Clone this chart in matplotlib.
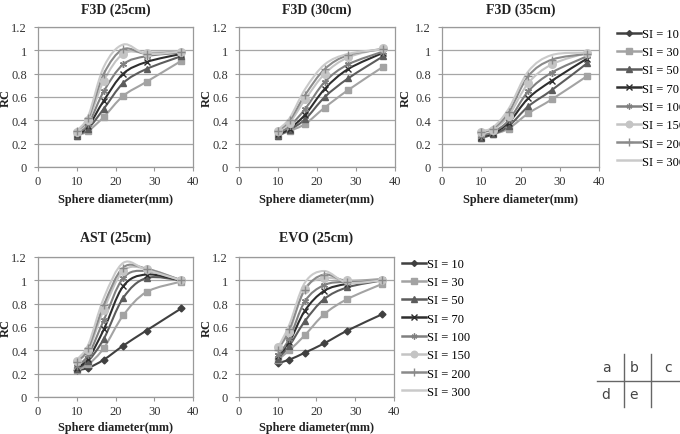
import numpy as np
import matplotlib
matplotlib.use("Agg")
import matplotlib.pyplot as plt
from matplotlib.path import Path
from matplotlib.patches import PathPatch
from matplotlib.lines import Line2D

plt.rcParams['font.family'] = ['Liberation Serif', 'DejaVu Serif']

# sphere diameters (mm)
diam = [10, 13, 17, 22, 28, 37]
si_labels = ['SI = 10', 'SI = 30', 'SI = 50', 'SI = 70', 'SI = 100', 'SI = 150', 'SI = 200', 'SI = 300']

# recovery coefficients, one list per SI value (None = not plotted)
f3d_25 = [None,
          [0.27, 0.31, 0.43, 0.61, 0.73, 0.91],
          [0.27, 0.33, 0.50, 0.72, 0.84, 0.95],
          [0.28, 0.35, 0.57, 0.80, 0.90, 0.97],
          [0.29, 0.37, 0.65, 0.88, 0.95, 0.98],
          [0.30, 0.40, 0.74, 0.97, 0.98, 0.99],
          [0.31, 0.42, 0.80, 1.01, 0.97, 0.99],
          [0.31, 0.44, 0.86, 1.05, 0.97, 0.99]]
f3d_30 = [None,
          [0.27, 0.31, 0.37, 0.51, 0.66, 0.86],
          [0.27, 0.32, 0.41, 0.60, 0.76, 0.95],
          [0.28, 0.33, 0.45, 0.67, 0.84, 0.98],
          [0.29, 0.35, 0.50, 0.73, 0.88, 0.99],
          [0.31, 0.38, 0.58, 0.80, 0.94, 1.02],
          [0.31, 0.40, 0.62, 0.84, 0.96, 1.01],
          [0.32, 0.42, 0.67, 0.88, 0.97, 1.01]]
f3d_35 = [None,
          [0.25, 0.28, 0.33, 0.46, 0.58, 0.78],
          [0.25, 0.28, 0.35, 0.52, 0.66, 0.89],
          [0.26, 0.29, 0.38, 0.59, 0.74, 0.93],
          [0.27, 0.30, 0.40, 0.65, 0.81, 0.95],
          [0.30, 0.32, 0.44, 0.72, 0.88, 0.98],
          [0.30, 0.33, 0.47, 0.78, 0.92, 0.97],
          [0.31, 0.34, 0.50, 0.82, 0.96, 0.98]]
ast_25 = [[0.23, 0.25, 0.32, 0.44, 0.57, 0.76],
          [0.23, 0.28, 0.42, 0.70, 0.90, 0.99],
          [0.24, 0.31, 0.50, 0.85, 1.02, 1.00],
          [0.25, 0.33, 0.58, 0.95, 1.05, 1.00],
          [0.27, 0.36, 0.66, 1.02, 1.08, 1.00],
          [0.31, 0.40, 0.75, 1.08, 1.10, 1.00],
          [0.30, 0.42, 0.79, 1.11, 1.10, 1.00],
          [0.32, 0.45, 0.85, 1.15, 1.09, 1.00]]
evo_25 = [[0.29, 0.32, 0.38, 0.46, 0.57, 0.71],
          [0.32, 0.40, 0.53, 0.71, 0.84, 0.97],
          [0.33, 0.44, 0.65, 0.84, 0.94, 1.00],
          [0.35, 0.47, 0.74, 0.91, 0.97, 1.00],
          [0.36, 0.50, 0.82, 0.96, 0.99, 1.01],
          [0.43, 0.56, 0.93, 1.02, 1.00, 1.00],
          [0.40, 0.58, 0.92, 1.05, 0.99, 1.00],
          [0.42, 0.62, 0.98, 1.08, 0.98, 1.00]]

colors = ['#404040', '#a3a3a3', '#5c5c5c', '#2e2e2e', '#808080', '#c4c4c4', '#8a8a8a', '#cacaca']
markers = ['D', 's', '^', 'x', (6, 2, 0), 'o', '+', None]
msizes = [3.5, 4.5, 4.5, 4.5, 5, 5.5, 6, 0]


def smooth_path(x, y):
    # excel style smoothed line: cubic bezier through the points
    pts = np.column_stack([x, y]).astype(float)
    n = len(pts)
    verts = [pts[0]]
    codes = [Path.MOVETO]
    for i in range(n - 1):
        p0 = pts[max(i - 1, 0)]
        p1 = pts[i]
        p2 = pts[i + 1]
        p3 = pts[min(i + 2, n - 1)]
        verts += [p1 + (p2 - p0) / 6, p2 - (p3 - p1) / 6, p2]
        codes += [Path.CURVE4] * 3
    return Path(verts, codes)


def draw_panel(ax, series, title, ylab_x, title_y, xlab_y):
    for k, vals in enumerate(series):
        if vals is None:
            continue
        ax.add_patch(PathPatch(smooth_path(diam, vals), fill=False,
                               edgecolor=colors[k], lw=1.5, zorder=3))
        if markers[k] is not None:
            ax.plot(diam, vals, ls='none', marker=markers[k], ms=msizes[k],
                    color=colors[k], mec=colors[k], mew=1.0, zorder=4)
    ax.set_xlim(0, 40)
    ax.set_ylim(0, 1.2)
    ax.set_xticks([0, 10, 20, 30, 40])
    ax.set_yticks([0, 0.2, 0.4, 0.6, 0.8, 1.0, 1.2])
    ax.set_yticklabels(['0', '0.2', '0.4', '0.6', '0.8', '1', '1.2'])
    ax.yaxis.grid(True, color='#a6a6a6', lw=0.9)
    ax.set_axisbelow(True)
    for s in ax.spines.values():
        s.set_color('#9a9a9a')
        s.set_linewidth(0.9)
    ax.tick_params(axis='both', labelsize=9, colors='#9a9a9a', labelcolor='#333333',
                   length=3, width=0.8)
    ax.tick_params(axis='y', pad=5)
    ax.tick_params(axis='x', pad=3)
    bb = ax.get_position()
    cx = (bb.x0 + bb.x1) / 2
    fig.text(cx, title_y, title, ha='center', va='center', fontsize=10,
             fontweight='bold', color='#222222')
    fig.text(cx, xlab_y, 'Sphere diameter(mm)', ha='center', va='center',
             fontsize=8.8, fontweight='bold', color='#222222')
    fig.text(ylab_x, (bb.y0 + bb.y1) / 2, 'RC', ha='center', va='center',
             rotation=90, fontsize=9, fontweight='bold', color='#222222')


W, H = 680, 435
fig = plt.figure(figsize=(W / 100, H / 100), dpi=100)


def box(left, top, right, bottom):
    return [left / W, 1 - bottom / H, (right - left) / W, (bottom - top) / H]


ax_a = fig.add_axes(box(38, 28, 193, 168))
ax_b = fig.add_axes(box(239, 28, 395, 168))
ax_c = fig.add_axes(box(442, 28, 599, 168))
ax_d = fig.add_axes(box(38, 258, 193, 398))
ax_e = fig.add_axes(box(239, 258, 394, 398))

draw_panel(ax_a, f3d_25, 'F3D (25cm)', 6 / W, 1 - 10 / H, 1 - 200 / H)
draw_panel(ax_b, f3d_30, 'F3D (30cm)', 207 / W, 1 - 10 / H, 1 - 200 / H)
draw_panel(ax_c, f3d_35, 'F3D (35cm)', 406 / W, 1 - 10 / H, 1 - 200 / H)
draw_panel(ax_d, ast_25, 'AST (25cm)', 6 / W, 1 - 238 / H, 1 - 428 / H)
draw_panel(ax_e, evo_25, 'EVO (25cm)', 207 / W, 1 - 238 / H, 1 - 428 / H)

handles = [Line2D([], [], color=colors[k], lw=1.8, marker=markers[k] if markers[k] else '',
                  ms=msizes[k] * 0.85, mew=1.0) for k in range(len(si_labels))]
for (lx, ly) in [(617 / W, 1 - 29 / H), (402 / W, 1 - 259 / H)]:
    fig.legend(handles, si_labels, loc='upper left', bbox_to_anchor=(lx, ly),
               frameon=False, fontsize=9, handlelength=1.9, handletextpad=0.1,
               labelspacing=0.5, borderaxespad=0, borderpad=0)

# panel key grid
fig.add_artist(Line2D([597 / W, 679 / W], [1 - 382 / H] * 2, color='#666666', lw=1))
for vx in [624, 651]:
    fig.add_artist(Line2D([vx / W] * 2, [1 - 355 / H, 1 - 408 / H], color='#666666', lw=1))
for letter, lx, ly in [('a', 606, 368), ('b', 634, 368), ('c', 668, 368),
                       ('d', 606, 395), ('e', 634, 395)]:
    fig.text(lx / W, 1 - ly / H, letter, ha='center', va='center', fontsize=10,
             family='DejaVu Sans', color='#444444')

fig.savefig('out.png', dpi=100)
